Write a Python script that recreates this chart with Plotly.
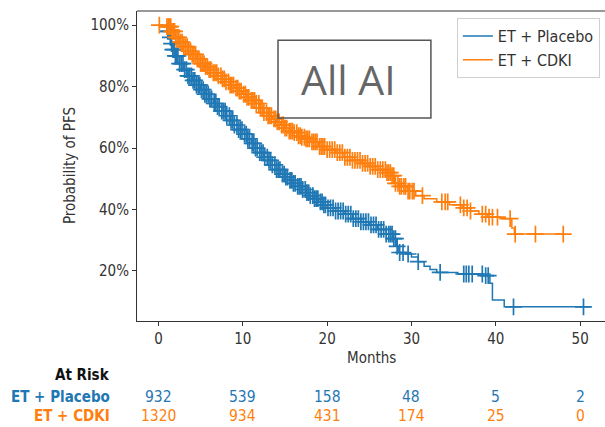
import plotly.graph_objects as go

# Kaplan-Meier step curves: time in months, progression-free probability
placebo_t = [0, 0.5, 1.0, 1.3, 1.5, 1.7, 2.0, 2.5, 3.0, 3.5, 4.0, 4.5, 5.0, 5.5, 6.0,
             6.5, 7.0, 7.5, 8.0, 8.5, 9.0, 9.5, 10.0, 10.5, 11.0, 11.5, 12.0, 12.5,
             13.0, 13.5, 14.0, 14.5, 15.0, 15.5, 16.0, 16.5, 17.0, 17.5, 18.0, 18.5,
             19.0, 19.5, 20.0, 21.0, 22.0, 23.0, 24.0, 25.0, 26.0, 27.0, 27.8, 28.2,
             28.5, 29.3, 30.0, 30.8, 31.5, 32.2, 33.0, 35.5, 38.5, 39.3, 39.6, 41.0, 51.2]
placebo_s = [1.000, 0.995, 0.980, 0.960, 0.940, 0.920, 0.900, 0.875, 0.855, 0.835, 0.820,
             0.805, 0.790, 0.775, 0.760, 0.745, 0.735, 0.720, 0.705, 0.690, 0.675, 0.660,
             0.645, 0.630, 0.615, 0.600, 0.585, 0.570, 0.560, 0.545, 0.530, 0.515, 0.505,
             0.495, 0.485, 0.475, 0.465, 0.455, 0.445, 0.435, 0.425, 0.415, 0.405, 0.395,
             0.385, 0.370, 0.360, 0.350, 0.335, 0.320, 0.305, 0.280, 0.260, 0.255, 0.245,
             0.230, 0.215, 0.205, 0.195, 0.190, 0.185, 0.160, 0.105, 0.083, 0.083]

cdki_t = [0, 1.0, 1.5, 2.0, 2.5, 3.0, 3.5, 4.0, 4.5, 5.0, 5.5, 6.0, 6.5, 7.0, 7.5, 8.0,
          8.5, 9.0, 9.5, 10.0, 10.5, 11.0, 11.5, 12.0, 12.5, 13.0, 13.5, 14.0, 14.5,
          15.0, 15.5, 16.0, 16.5, 17.0, 17.5, 18.0, 19.0, 20.0, 21.0, 22.0, 23.0, 24.0,
          25.0, 26.0, 27.0, 27.6, 28.0, 28.5, 29.5, 30.5, 31.5, 33.0, 34.5, 36.0, 37.0,
          38.0, 39.0, 40.5, 41.9, 42.2, 48.0]
cdki_s = [1.000, 0.995, 0.980, 0.960, 0.945, 0.930, 0.915, 0.905, 0.890, 0.875, 0.865,
          0.855, 0.845, 0.835, 0.825, 0.815, 0.805, 0.795, 0.785, 0.775, 0.765, 0.755,
          0.745, 0.730, 0.715, 0.705, 0.695, 0.685, 0.675, 0.665, 0.655, 0.650, 0.640,
          0.635, 0.630, 0.620, 0.605, 0.595, 0.585, 0.570, 0.560, 0.550, 0.540, 0.530,
          0.520, 0.510, 0.485, 0.475, 0.460, 0.445, 0.435, 0.425, 0.415, 0.405, 0.395,
          0.385, 0.375, 0.370, 0.340, 0.320, 0.320]

# Censoring times (months)
placebo_cens = [1.1, 1.25, 1.4, 1.55, 1.7, 1.85, 2.0, 2.15, 2.3, 2.5, 2.7, 2.9, 3.1, 3.3,
                3.5, 3.7, 3.9, 4.1, 4.3, 4.5, 4.7, 4.9, 5.1, 5.3, 5.5, 5.7, 5.9, 6.1, 6.3,
                6.6, 6.8, 7.0, 7.2, 7.5, 7.7, 7.9, 8.1, 8.4, 8.6, 8.8, 9.0, 9.3, 9.5, 9.7,
                9.9, 10.2, 10.4, 10.6, 10.8, 11.1, 11.3, 11.5, 11.7, 12.0, 12.2, 12.4,
                12.6, 12.9, 13.1, 13.3, 13.5, 13.8, 14.0, 14.2, 14.4, 14.7, 14.9, 15.1,
                15.3, 15.6, 15.8, 16.0, 16.2, 16.5, 16.7, 16.9, 17.1, 17.4, 17.6, 17.8,
                18.0, 18.3, 18.5, 18.7, 18.9, 19.2, 19.4, 19.6, 19.8, 20.1, 20.4, 20.7,
                21.0, 21.3, 21.6, 21.9, 22.2, 22.5, 22.8, 23.1, 23.4, 23.7, 24.0, 24.3,
                24.6, 24.9, 25.2, 25.5, 25.8, 26.1, 26.4, 26.7, 27.0, 27.3, 27.5, 27.7,
                27.9, 28.1, 28.3, 28.6, 29.0, 29.6, 30.8, 33.4, 36.2, 36.5, 36.8, 37.2,
                38.4, 38.8, 39.1, 42.1, 50.4]
cdki_cens = [0.1, 1.0, 1.15, 1.3, 1.45, 1.6, 1.75, 1.9, 2.05, 2.2, 2.4, 2.6, 2.8, 3.0,
             3.2, 3.4, 3.6, 3.8, 4.0, 4.2, 4.4, 4.6, 4.8, 5.0, 5.2, 5.4, 5.6, 5.8, 6.0,
             6.2, 6.5, 6.7, 6.9, 7.1, 7.4, 7.6, 7.8, 8.0, 8.3, 8.5, 8.7, 8.9, 9.2, 9.4,
             9.6, 9.8, 10.1, 10.3, 10.5, 10.7, 11.0, 11.2, 11.4, 11.6, 11.9, 12.1, 12.3,
             12.5, 12.8, 13.0, 13.2, 13.4, 13.7, 13.9, 14.1, 14.3, 14.6, 14.8, 15.0,
             15.2, 15.5, 15.7, 15.9, 16.1, 16.4, 16.6, 16.8, 17.0, 17.3, 17.5, 17.7,
             17.9, 18.2, 18.4, 18.6, 18.8, 19.1, 19.3, 19.5, 19.7, 20.0, 20.3, 20.6,
             20.9, 21.2, 21.5, 21.8, 22.1, 22.4, 22.7, 23.0, 23.3, 23.6, 23.9, 24.2,
             24.5, 24.8, 25.1, 25.4, 25.7, 26.0, 26.3, 26.6, 26.9, 27.1, 27.3, 27.5,
             27.7, 27.9, 28.1, 28.4, 28.6, 28.8, 29.1, 29.3, 29.6, 29.8, 30.1, 30.3,
             31.3, 33.6, 34.0, 34.3, 35.8, 36.2, 36.6, 37.0, 38.4, 38.8, 39.2, 39.6,
             40.2, 41.7, 42.3, 44.7, 48.0]

# Number at risk
risk_times = [0, 10, 20, 30, 40, 50]
placebo_risk = [932, 539, 158, 48, 5, 2]
cdki_risk = [1320, 934, 431, 174, 25, 0]

BLUE = "#1f77b4"
ORANGE = "#ff7f0e"
FONT = "DejaVu Sans Condensed, DejaVu Sans"


def step_value(times, surv, t):
    """Survival estimate of a right-continuous step function at time t."""
    val = surv[0]
    for ti, si in zip(times, surv):
        if ti <= t:
            val = si
        else:
            break
    return val


fig = go.Figure()
groups = [("ET + Placebo", placebo_t, placebo_s, placebo_cens, BLUE),
          ("ET + CDKI", cdki_t, cdki_s, cdki_cens, ORANGE)]
for name, t, s, cens, color in groups:
    fig.add_trace(go.Scatter(x=t, y=s, mode="lines", name=name,
                             line=dict(color=color, width=1.5, shape="hv")))
for name, t, s, cens, color in groups:
    fig.add_trace(go.Scatter(x=cens, y=[step_value(t, s, c) for c in cens],
                             mode="markers", showlegend=False, hoverinfo="skip",
                             marker=dict(symbol="cross-thin", size=12,
                                         line=dict(color=color, width=1.7))))

# At-risk table below the axis
ann = [dict(text="<b>At Risk</b>", x=-0.053, y=-0.174, xref="paper", yref="paper",
            xanchor="right", yanchor="middle", showarrow=False,
            font=dict(family=FONT, size=15, color="#111")),
       dict(text="<b>ET + Placebo</b>", x=-0.053, y=-0.245, xref="paper", yref="paper",
            xanchor="right", yanchor="middle", showarrow=False,
            font=dict(family=FONT, size=15, color=BLUE)),
       dict(text="<b>ET + CDKI</b>", x=-0.053, y=-0.306, xref="paper", yref="paper",
            xanchor="right", yanchor="middle", showarrow=False,
            font=dict(family=FONT, size=15, color=ORANGE))]
for tx, a, b in zip(risk_times, placebo_risk, cdki_risk):
    ann.append(dict(text=str(a), x=tx, y=-0.245, xref="x", yref="paper",
                    xanchor="center", yanchor="middle", showarrow=False,
                    font=dict(family=FONT, size=15.5, color=BLUE)))
    ann.append(dict(text=str(b), x=tx, y=-0.306, xref="x", yref="paper",
                    xanchor="center", yanchor="middle", showarrow=False,
                    font=dict(family=FONT, size=15.5, color=ORANGE)))

# Axis titles
ann.append(dict(text="Months", x=0.50, y=-0.118, xref="paper", yref="paper",
                xanchor="center", yanchor="middle", showarrow=False,
                font=dict(family=FONT, size=15, color="#333")))
ann.append(dict(text="Probability of PFS", x=-0.143, y=0.5, xref="paper", yref="paper",
                xanchor="center", yanchor="middle", showarrow=False, textangle=-90,
                font=dict(family=FONT, size=15, color="#333")))

# Panel label
ann.append(dict(text="All AI", x=0.452, y=0.78, xref="paper", yref="paper",
                xanchor="center", yanchor="middle", showarrow=False,
                font=dict(family="Open Sans", size=41, color="#666")))

fig.update_layout(
    width=605, height=427,
    margin=dict(l=137, r=0, t=11, b=106),
    paper_bgcolor="white", plot_bgcolor="white",
    showlegend=True,
    legend=dict(x=0.989, y=0.977, xanchor="right", yanchor="top",
                bgcolor="white", bordercolor="#d0d0d0", borderwidth=1,
                font=dict(family=FONT, size=16, color="#333"), itemwidth=30,
                tracegroupgap=0),
    annotations=ann,
    shapes=[
        dict(type="line", xref="paper", yref="paper", x0=0, x1=1, y0=1, y1=1,
             line=dict(color="#333", width=1)),
        dict(type="rect", xref="paper", yref="paper", x0=0.3013, x1=0.628,
             y0=0.655, y1=0.906, line=dict(color="#555", width=1.5)),
    ],
    xaxis=dict(range=[-2.55, 52.95], tickvals=risk_times, showgrid=False,
               zeroline=False, showline=True, linecolor="#333", linewidth=1,
               ticks="outside", ticklen=4, tickcolor="#333",
               tickfont=dict(family=FONT, size=15, color="#333")),
    yaxis=dict(range=[0.037, 1.046], tickvals=[0.2, 0.4, 0.6, 0.8, 1.0],
               tickformat=".0%", showgrid=False, zeroline=False, showline=True,
               linecolor="#333", linewidth=1, ticks="outside", ticklen=4,
               tickcolor="#333", tickfont=dict(family=FONT, size=15, color="#333")),
)

fig.write_html("out.html")
